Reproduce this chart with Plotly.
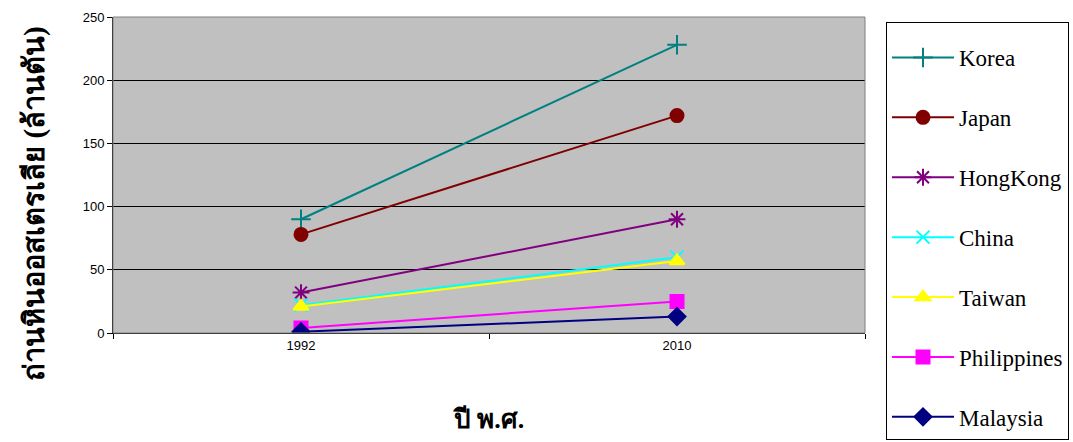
import plotly.graph_objects as go

years = ["1992", "2010"]
series_names = ["Korea", "Japan", "HongKong", "China", "Taiwan", "Philippines", "Malaysia"]
korea = [90, 228]
japan = [78, 172]
hongkong = [32, 90]
china = [22, 60]
taiwan = [21, 57]
philippines = [4, 25]
malaysia = [1, 13]
y_ticks = [0, 50, 100, 150, 200, 250]

values = [korea, japan, hongkong, china, taiwan, philippines, malaysia]
colors = ["#008080", "#800000", "#800080", "#00FFFF", "#FFFF00", "#FF00FF", "#000080"]
symbols = ["cross-thin-open", "circle", "asterisk-open", "x-thin-open", "triangle-up", "square", "diamond"]
sizes = [14, 13, 14, 13, 13, 13, 13]

fig = go.Figure()
for i, (name, vals) in enumerate(zip(series_names, values)):
    fig.add_trace(go.Scatter(
        x=years, y=vals, name=name, mode="lines+markers",
        legendgroup=name,
        line=dict(color=colors[i], width=2),
        marker=dict(symbol=symbols[i], size=sizes[i], color=colors[i],
                    line=dict(color=colors[i], width=2)),
    ))

fig.update_layout(
    width=1073, height=442,
    margin=dict(l=113, r=208, t=10, b=109),
    paper_bgcolor="white",
    plot_bgcolor="#C0C0C0",
    font=dict(family="Liberation Serif", color="black"),
    showlegend=True,
    legend=dict(
        xref="container", yref="container",
        x=886 / 1073, y=1 - 22 / 442, xanchor="left", yanchor="top",
        maxheight=440,
        bgcolor="white", bordercolor="black", borderwidth=1,
        font=dict(family="Liberation Serif", size=23, color="black"),
        title=dict(text=" ", font=dict(family="Liberation Serif", size=10, color="black")),
        tracegroupgap=27,
        itemwidth=62,
    ),
    xaxis=dict(
        type="category", range=[-0.5, 1.5],
        showgrid=False, showline=True, linecolor="black", linewidth=1,
        ticks="outside", ticklen=5, tickcolor="black",
        tickson="boundaries",
        tickfont=dict(family="Liberation Sans", size=13, color="black"),
        title=dict(text="<b>ปี พ.ศ.</b>", font=dict(family="Liberation Serif", size=26, color="black"), standoff=58),
    ),
    yaxis=dict(
        range=[0, 250], tickvals=y_ticks,
        showgrid=True, gridcolor="black", gridwidth=1,
        showline=True, linecolor="black", linewidth=1,
        ticks="outside", ticklen=5, tickcolor="black",
        tickfont=dict(family="Liberation Sans", size=13, color="black"),
        zeroline=False,
    ),
)
fig.add_annotation(
    text="<b>ถ่านหินออสเตรเลีย (ล้านตัน)</b>",
    xref="paper", yref="paper",
    x=(35 - 113) / 752, y=1 - (201 - 10) / 323,
    xanchor="center", yanchor="middle", textangle=-90, showarrow=False,
    font=dict(family="Liberation Serif", size=29, color="black"),
)
fig.add_shape(type="rect", xref="paper", yref="paper", x0=0, y0=0, x1=1, y1=1,
              line=dict(color="#808080", width=1), layer="above")

fig.write_html("out.html")
